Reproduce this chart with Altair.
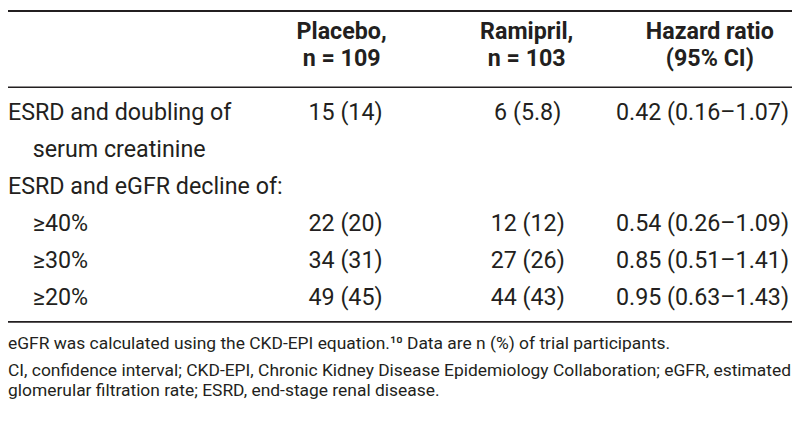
import altair as alt
import pandas as pd

# ---- table content ----
row_labels = ["ESRD and doubling of", "serum creatinine", "ESRD and eGFR decline of:",
              "\u226540%", "\u226530%", "\u226520%"]
row_level = [0, 1, 0, 1, 1, 1]
placebo = ["15 (14)", "", "", "22 (20)", "34 (31)", "49 (45)"]
ramipril = ["\u20076 (5.8)", "", "", "12 (12)", "27 (26)", "44 (43)"]
hazard = ["0.42 (0.16\u20131.07)", "", "", "0.54 (0.26\u20131.09)",
          "0.85 (0.51\u20131.41)", "0.95 (0.63\u20131.43)"]
header_line1 = ["Placebo,", "Ramipril,", "Hazard ratio"]
header_line2 = ["n = 109", "n = 103", "(95% CI)"]
footnotes = [
    "eGFR was calculated using the CKD-EPI equation.\u00b9\u2070 Data are n (%) of trial participants.",
    "CI, confidence interval; CKD-EPI, Chronic Kidney Disease Epidemiology Collaboration; eGFR, estimated",
    "glomerular filtration rate; ESRD, end-stage renal disease.",
]

# ---- layout: column slots and line slots mapped by piecewise scales ----
slots = ["label", "indent", "placebo_head", "placebo", "ramipril_head", "ramipril", "hr_head", "hr"]
slot_px = [0, 25, 337, 341, 524, 525, 709, 789]
S = {k: i for i, k in enumerate(slots)}
lines = list(range(11))
line_px = [22, 49, 104, 141.4, 178.8, 216.2, 253.6, 291, 337, 365, 385]

cells = []
for i in range(len(row_labels)):
    ln = 2 + i
    cells.append(dict(line=ln, slot=S["indent"] if row_level[i] else S["label"],
                      text=row_labels[i], kind="left"))
    cells.append(dict(line=ln, slot=S["placebo"], text=placebo[i], kind="center"))
    cells.append(dict(line=ln, slot=S["ramipril"], text=ramipril[i], kind="center"))
    cells.append(dict(line=ln, slot=S["hr"], text=hazard[i], kind="right"))
for j, key in enumerate(["placebo_head", "ramipril_head", "hr_head"]):
    cells.append(dict(line=0, slot=S[key], text=header_line1[j], kind="head"))
    cells.append(dict(line=1, slot=S[key], text=header_line2[j], kind="head"))
for k, t in enumerate(footnotes):
    cells.append(dict(line=8 + k, slot=S["label"], text=t, kind="foot"))
df = pd.DataFrame(cells)
df = df[df["text"] != ""]

FONT = "Roboto, sans-serif"
INK = "#231f20"
W, H = 792, 413
FS = 23.5

xs = alt.X("slot:Q", scale=alt.Scale(domain=list(range(len(slots))), range=slot_px), axis=None)
ys = alt.Y("line:Q", scale=alt.Scale(domain=lines, range=line_px), axis=None)

base = alt.Chart(df).encode(x=xs, y=ys, text="text:N")

body_left = base.transform_filter(alt.datum.kind == "left").mark_text(
    align="left", baseline="middle", font=FONT, fontSize=FS, color=INK)
body_center = base.transform_filter(alt.datum.kind == "center").mark_text(
    align="center", baseline="middle", font=FONT, fontSize=FS, color=INK)
body_right = base.transform_filter(alt.datum.kind == "right").mark_text(
    align="right", baseline="middle", font=FONT, fontSize=FS, color=INK)
head = base.transform_filter(alt.datum.kind == "head").mark_text(
    align="center", baseline="middle", font=FONT, fontSize=FS, fontWeight="bold", color=INK)
foot = base.transform_filter(alt.datum.kind == "foot").mark_text(
    align="left", baseline="middle", font=FONT, fontSize=17.6, color=INK)

rule_df = pd.DataFrame({"r": [0]})
def rule(ypx, sw):
    return alt.Chart(rule_df).mark_rule(color=INK, strokeWidth=sw).encode(
        x=alt.value(0), x2=alt.value(W), y=alt.value(ypx))

chart = alt.layer(
    rule(1, 2), rule(78, 1.5), rule(315, 1.8),
    body_left, body_center, body_right, head, foot,
).properties(
    width=W, height=H, padding=0, autosize=alt.AutoSizeParams(type="none")
).configure_view(stroke=None)

chart.save("out.html", embed_options={"renderer": "svg", "actions": False})
